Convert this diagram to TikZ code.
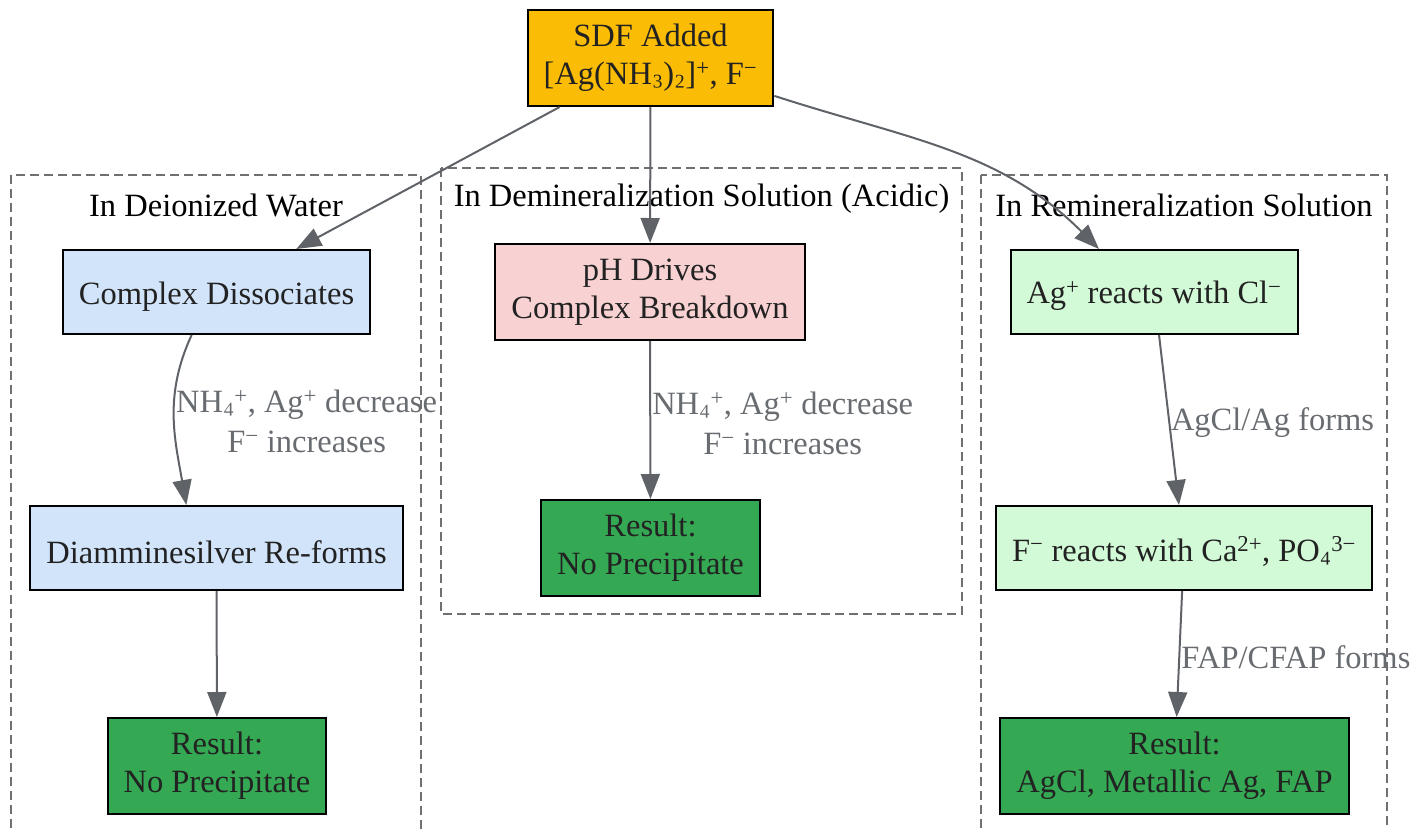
\documentclass[tikz,border=0pt]{standalone}
\usepackage{fontspec}
\setmainfont{Liberation Serif}
\usetikzlibrary{positioning,calc,arrows.meta}
\newcommand{\ionp}{\textsuperscript{+}}
\newcommand{\ionm}{\textsuperscript{−}}
\newcommand{\ionsub}[1]{\raisebox{3pt}{#1}}
\definecolor{sdfyellow}{HTML}{FBBC05}
\definecolor{dissblue}{HTML}{D2E4F9}
\definecolor{acidpink}{HTML}{F8D1D2}
\definecolor{remingreen}{HTML}{D2FAD7}
\definecolor{resgreen}{HTML}{34A853}
\definecolor{edgegray}{HTML}{5F6368}
\definecolor{labelgray}{HTML}{686C70}
\definecolor{clusgray}{HTML}{707070}
\definecolor{inktext}{HTML}{222222}
\tikzset{bigfont/.style={font=\fontsize{32.5}{38}\selectfont}}
\tikzset{dbox/.style={draw=black, line width=2pt, inner xsep=16pt, inner ysep=0pt, align=center, text=inktext, bigfont, execute at begin node={\rule{0pt}{31pt}}}}
\tikzset{dbox1/.style={dbox, minimum height=84pt}}
\tikzset{dbox2/.style={dbox, minimum height=96pt}}
\tikzset{clus/.style={draw=clusgray, line width=2pt, dash pattern=on 9pt off 5pt}}
\tikzset{ctitle/.style={text=black, inner sep=0pt, bigfont}}
\tikzset{arrg/.style={draw=edgegray, line width=2pt, -{Triangle[length=25pt,width=19pt]}}}
\tikzset{elab/.style={right, inner sep=1pt, yshift=-3pt, text=labelgray, align=center, font=\fontsize{32.5}{40}\selectfont}}

\begin{document}
\begin{tikzpicture}[x=1pt, y=-1pt]
	\useasboundingbox (0,0) rectangle (1421,828);
	\clip (0,0) rectangle (1421,828);
%
	\draw[clus] (11,175) rectangle (421,850);
	\draw[clus] (441,168) rectangle (962,614);
	\draw[clus] (981,175) rectangle (1387,850);
	\node[ctitle] (tW) at (216,205) {In Deionized Water};
	\node[ctitle] (tD) at (701.5,199) {In Demineralization Solution (Acidic)};
	\node[ctitle] (tR) at (1184,205) {In Remineralization Solution};
%
	\node[dbox2, fill=sdfyellow] (S) at (650.5,58) {SDF Added\\{[}Ag(NH\ionsub{₃})\ionsub{₂}]\ionp, F\ionm};
	\node[dbox1, fill=dissblue] (CD) at (216.5,292) {Complex Dissociates};
	\node[dbox1, fill=dissblue] (DR) at (216.5,548) {Diamminesilver Re-forms};
	\node[dbox2, fill=resgreen] (RW) at (217,766) {Result:\\No Precipitate};
	\node[dbox2, fill=acidpink] (PH) at (650,292) {pH Drives\\Complex Breakdown};
	\node[dbox2, fill=resgreen] (RD) at (650.5,548) {Result:\\No Precipitate};
	\node[dbox1, fill=remingreen] (AC) at (1154,292) {Ag\ionp{} reacts with Cl\ionm};
	\node[dbox1, fill=remingreen] (FC) at (1184,548) {F\ionm{} reacts with Ca\textsuperscript{2+}, PO\ionsub{₄}\textsuperscript{3−}};
	\node[dbox2, fill=resgreen] (RR) at (1174.5,766) {Result:\\AgCl, Metallic Ag, FAP};
%
	\draw[arrg] (S) -- (CD);
	\draw[arrg] (S) -- (PH);
	\draw[arrg] (S.-17) to[out=-18, in=135] (AC.142);
	\draw[arrg] (CD.-120) to[out=-115, in=100]
		node[elab, pos=0.5]{NH\ionsub{₄}\ionp, Ag\ionp{} decrease\\F\ionm{} increases} (DR.125);
	\draw[arrg] (DR) -- (RW);
	\draw[arrg] (PH) -- node[elab]{NH\ionsub{₄}\ionp, Ag\ionp{} decrease\\F\ionm{} increases} (RD);
	\draw[arrg] (AC) -- node[elab]{AgCl/Ag forms} (FC);
	\draw[arrg] (FC) -- node[elab]{FAP/CFAP forms} (RR);
\end{tikzpicture}
\end{document}
